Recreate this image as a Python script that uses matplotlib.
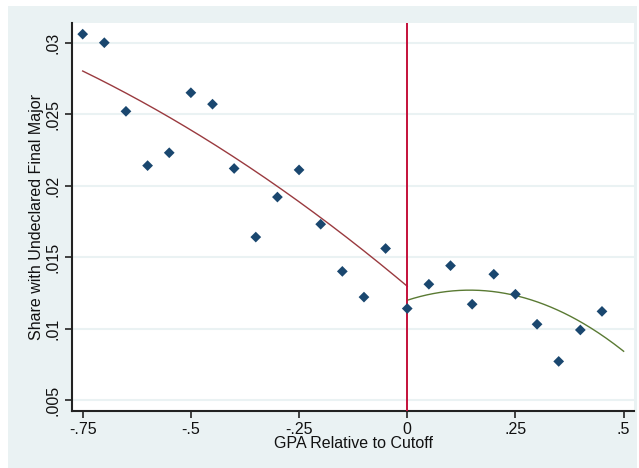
import numpy as np
import matplotlib
matplotlib.use("Agg")
import matplotlib.pyplot as plt
from matplotlib.patches import Rectangle

# binned means of the outcome by GPA distance to the cutoff
gpa_bins = [-0.75, -0.70, -0.65, -0.60, -0.55, -0.50, -0.45, -0.40, -0.35,
            -0.30, -0.25, -0.20, -0.15, -0.10, -0.05, 0.00, 0.05, 0.10,
            0.15, 0.20, 0.25, 0.30, 0.35, 0.40, 0.45]
share_undeclared = [0.0306, 0.0300, 0.0252, 0.0214, 0.0223, 0.0265, 0.0257,
                    0.0212, 0.0164, 0.0192, 0.0211, 0.0173, 0.0140, 0.0122,
                    0.0156, 0.0114, 0.0131, 0.0144, 0.0117, 0.0138, 0.0124,
                    0.0103, 0.0077, 0.0099, 0.0112]

# quadratic fits on each side of the cutoff (highest power first)
fit_left = [-0.00712, -0.02542, 0.01296]
fit_right = [-0.03384, 0.00978, 0.01198]
left_range = (-0.75, 0.0)
right_range = (0.0, 0.5)

x_ticks = [-0.75, -0.5, -0.25, 0, 0.25, 0.5]
x_ticklabels = ["-.75", "-.5", "-.25", "0", ".25", ".5"]
y_ticks = [0.005, 0.01, 0.015, 0.02, 0.025, 0.03]
y_ticklabels = [".005", ".01", ".015", ".02", ".025", ".03"]

plt.rcParams["font.family"] = ["Liberation Sans", "DejaVu Sans"]

W, H = 639, 468
fig = plt.figure(figsize=(W / 100, H / 100), dpi=100, facecolor="white")
# Stata-style graph region behind the plot area
fig.patches.append(Rectangle((8 / W, 0), (637 - 8) / W, (H - 6) / H,
                             transform=fig.transFigure, facecolor="#eaf2f3",
                             edgecolor="none", zorder=-10))

ax = fig.add_axes([72 / W, (H - 411) / H, (634 - 72) / W, (411 - 23) / H])
ax.set_facecolor("white")

ax.set_xlim(-0.7747, 0.524)
ax.set_ylim(0.00423, 0.03138)

for yt in y_ticks:
    ax.axhline(yt, color="#eaf2f3", lw=1.5, zorder=1)

xl = np.linspace(*left_range, 200)
ax.plot(xl, np.polyval(fit_left, xl), color="#9a3a3f", lw=1.0, zorder=2)
xr = np.linspace(*right_range, 200)
ax.plot(xr, np.polyval(fit_right, xr), color="#5a7a33", lw=1.0, zorder=2)

ax.axvline(0, color="#c4103a", lw=1.4, zorder=3)

ax.scatter(gpa_bins, share_undeclared, marker="D", s=30, color="#1a476f",
           edgecolors="none", zorder=4)

ax.set_xticks(x_ticks)
ax.set_xticklabels(x_ticklabels)
ax.set_yticks(y_ticks)
ax.set_yticklabels(y_ticklabels, rotation=90, va="center")
ax.tick_params(axis="both", direction="out", length=5, width=1.2,
               color="#222222", labelsize=11.5, labelcolor="#111111", pad=3)

for side in ["top", "right"]:
    ax.spines[side].set_visible(False)
for side in ["left", "bottom"]:
    ax.spines[side].set_color("#222222")
    ax.spines[side].set_linewidth(1.5)

ax.set_xlabel("GPA Relative to Cutoff", fontsize=11.5, color="#111111",
              labelpad=-1)
ax.set_ylabel("Share with Undeclared Final Major", fontsize=11.5,
              color="#111111", labelpad=1)

fig.savefig("out.png", dpi=100, facecolor="white")
